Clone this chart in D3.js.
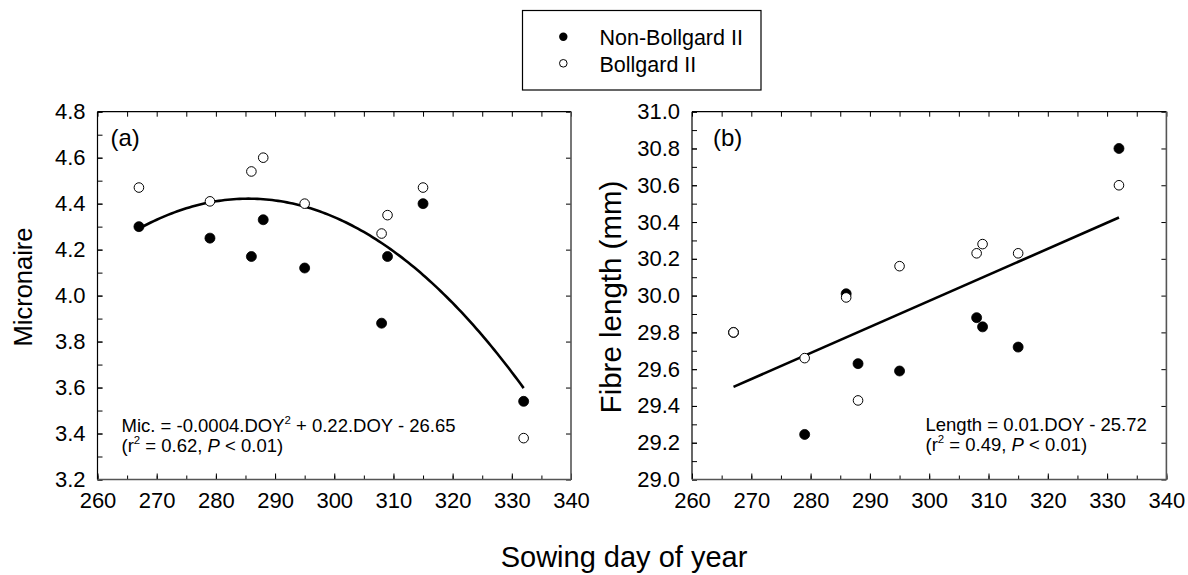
<!DOCTYPE html>
<html><head><meta charset="utf-8">
<script src="https://cdn.jsdelivr.net/npm/d3@7"></script>
<style>
html,body{margin:0;padding:0;background:#fff;}
svg{display:block;font-family:Arial,"Liberation Sans",sans-serif;}
</style></head>
<body>
<svg id="chart" width="1188" height="575"></svg>
<script>
// ---- data ----
const doy = [267, 279, 286, 288, 295, 308, 309, 315, 332];
const micNonBG = [4.30, 4.25, 4.17, 4.33, 4.12, 3.88, 4.17, 4.40, 3.54];
const micBG    = [4.47, 4.41, 4.54, 4.60, 4.40, 4.27, 4.35, 4.47, 3.38];
const lenNonBG = [29.80, 29.245, 30.01, 29.63, 29.59, 29.88, 29.83, 29.72, 30.80];
const lenBG    = [29.80, 29.66, 29.99, 29.43, 30.16, 30.23, 30.28, 30.23, 30.60];
const xTicks = [260, 270, 280, 290, 300, 310, 320, 330, 340];
const micTicks = [3.2, 3.4, 3.6, 3.8, 4.0, 4.2, 4.4, 4.6, 4.8];
const lenTicks = [29.0, 29.2, 29.4, 29.6, 29.8, 30.0, 30.2, 30.4, 30.6, 30.8, 31.0];
// fitted curves (coefficients)
const micFit = [-0.0003812, 0.2176652, -26.65];   // a*x^2 + b*x + c
const lenFit = [0.01417, 25.72];                  // slope, intercept
const fitRange = [267, 332];
const seriesNames = ["Non-Bollgard II", "Bollgard II"];

const svg = d3.select("#chart");
const FONT_TICK = 22;

function panel(opts) {
  const {x0, x1, y0, y1, yDomain, yTicks, yMinorStep, yFmt} = opts;
  const x = d3.scaleLinear().domain([260, 340]).range([x0, x1]);
  const y = d3.scaleLinear().domain(yDomain).range([y1, y0]);
  const g = svg.append("g");

  const minorX = d3.range(260, 341, 5);
  const minorY = d3.range(0, Math.round((yDomain[1]-yDomain[0])/yMinorStep)+1).map(i => yDomain[0] + i*yMinorStep);

  g.append("g").attr("transform", `translate(0,${y1})`)
    .call(d3.axisBottom(x).tickValues(minorX).tickSizeInner(-4).tickSizeOuter(0).tickFormat(""))
    .call(a => a.select(".domain").remove());
  g.append("g").attr("transform", `translate(0,${y1})`)
    .call(d3.axisBottom(x).tickValues(xTicks).tickSizeInner(-6).tickSizeOuter(0).tickPadding(13).tickFormat(d3.format("d")))
    .call(a => a.select(".domain").remove())
    .call(a => a.selectAll("text").attr("font-size", FONT_TICK).attr("font-family", "Arial, 'Liberation Sans', sans-serif").attr("fill", "#000"));
  g.append("g").attr("transform", `translate(0,${y0})`)
    .call(d3.axisTop(x).tickValues(minorX).tickSizeInner(-5).tickSizeOuter(0).tickFormat(""))
    .call(a => a.select(".domain").remove());
  g.append("g").attr("transform", `translate(${x0},0)`)
    .call(d3.axisLeft(y).tickValues(minorY).tickSizeInner(-5).tickSizeOuter(0).tickFormat(""))
    .call(a => a.select(".domain").remove());
  g.append("g").attr("transform", `translate(${x0},0)`)
    .call(d3.axisLeft(y).tickValues(yTicks).tickSizeInner(-5).tickSizeOuter(0).tickPadding(12).tickFormat(d3.format(yFmt)))
    .call(a => a.select(".domain").remove())
    .call(a => a.selectAll("text").attr("font-size", FONT_TICK).attr("font-family", "Arial, 'Liberation Sans', sans-serif").attr("fill", "#000"));
  g.append("g").attr("transform", `translate(${x1},0)`)
    .call(d3.axisRight(y).tickValues(yTicks).tickSizeInner(-5).tickSizeOuter(0).tickFormat(""))
    .call(a => a.select(".domain").remove());

  g.selectAll(".tick line").attr("stroke", "#000").attr("stroke-width", 1);

  g.append("line").attr("x1", x0).attr("x2", x1).attr("y1", y0).attr("y2", y0).attr("stroke", "#000").attr("stroke-width", 1.2);
  g.append("line").attr("x1", x0).attr("x2", x0).attr("y1", y0).attr("y2", y1).attr("stroke", "#000").attr("stroke-width", 1.2);
  g.append("line").attr("x1", x1).attr("x2", x1).attr("y1", y0).attr("y2", y1).attr("stroke", "#555").attr("stroke-width", 1.6);
  g.append("line").attr("x1", x0).attr("x2", x1).attr("y1", y1).attr("y2", y1).attr("stroke", "#555").attr("stroke-width", 1.6);

  return {g, x, y};
}

function drawPoints(p, xs, nonVals, bgVals) {
  p.g.append("g").selectAll("circle").data(xs.map((d,i)=>[d, nonVals[i]])).join("circle")
    .attr("cx", d => p.x(d[0])).attr("cy", d => p.y(d[1])).attr("r", 5)
    .attr("fill", "#000").attr("stroke", "#000").attr("stroke-width", 0.8);
  p.g.append("g").selectAll("circle").data(xs.map((d,i)=>[d, bgVals[i]])).join("circle")
    .attr("cx", d => p.x(d[0])).attr("cy", d => p.y(d[1])).attr("r", 4.8)
    .attr("fill", "#fff").attr("stroke", "#000").attr("stroke-width", 1);
}

function eqText(g, x, yb, parts1, parts2, size) {
  const t1 = g.append("text").attr("x", x).attr("y", yb).attr("font-size", size).attr("fill", "#000");
  parts1.forEach(pt => addPart(t1, pt, size));
  const t2 = g.append("text").attr("x", x).attr("y", yb + 20).attr("font-size", size).attr("fill", "#000");
  parts2.forEach(pt => addPart(t2, pt, size));
}
function addPart(t, pt, size) {
  const s = t.append("tspan").text(pt.t);
  if (pt.sup) { s.attr("font-size", size*0.62).attr("dy", -size*0.42); }
  if (pt.after) { s.attr("dy", size*0.42); }
  if (pt.it) s.attr("font-style", "italic");
}

// ---- Panel (a) ----
const pa = panel({x0: 97.5, x1: 571, y0: 111.7, y1: 479.5, yDomain: [3.2, 4.8], yTicks: micTicks, yMinorStep: 0.1, yFmt: ".1f"});
const curvePts = d3.range(fitRange[0], fitRange[1] + 0.01, 0.5).map(d => [d, micFit[0]*d*d + micFit[1]*d + micFit[2]]);
pa.g.append("path").datum(curvePts)
  .attr("d", d3.line().x(d => pa.x(d[0])).y(d => pa.y(d[1])))
  .attr("fill", "none").attr("stroke", "#000").attr("stroke-width", 2.6);
drawPoints(pa, doy, micNonBG, micBG);
pa.g.append("text").attr("x", 110.5).attr("y", 145.5).attr("font-size", 24).text("(a)");
eqText(pa.g, 121.5, 432,
  [{t:"Mic. = -0.0004.DOY"},{t:"2",sup:true},{t:" + 0.22.DOY - 26.65",after:true}],
  [{t:"(r"},{t:"2",sup:true},{t:" = 0.62, ",after:true},{t:"P",it:true},{t:" < 0.01)"}], 18.5);

// ---- Panel (b) ----
const pb = panel({x0: 692, x1: 1166.4, y0: 111.7, y1: 479.5, yDomain: [29.0, 31.0], yTicks: lenTicks, yMinorStep: 0.1, yFmt: ".1f"});
pb.g.append("line")
  .attr("x1", pb.x(fitRange[0])).attr("y1", pb.y(lenFit[0]*fitRange[0] + lenFit[1]))
  .attr("x2", pb.x(fitRange[1])).attr("y2", pb.y(lenFit[0]*fitRange[1] + lenFit[1]))
  .attr("stroke", "#000").attr("stroke-width", 2.6);
drawPoints(pb, doy, lenNonBG, lenBG);
pb.g.append("text").attr("x", 713).attr("y", 145.5).attr("font-size", 24).text("(b)");
eqText(pb.g, 925.5, 430.5,
  [{t:"Length = 0.01.DOY - 25.72"}],
  [{t:"(r"},{t:"2",sup:true},{t:" = 0.49, ",after:true},{t:"P",it:true},{t:" < 0.01)"}], 18.5);

// ---- axis titles ----
svg.append("text").attr("transform", "translate(32,287) rotate(-90)").attr("text-anchor", "middle")
  .attr("font-size", 25.5).text("Micronaire");
svg.append("text").attr("transform", "translate(621,297) rotate(-90)").attr("text-anchor", "middle")
  .attr("font-size", 29.5).text("Fibre length (mm)");
svg.append("text").attr("x", 624).attr("y", 567).attr("text-anchor", "middle")
  .attr("font-size", 29).text("Sowing day of year");

// ---- legend ----
const lg = svg.append("g");
lg.append("rect").attr("x", 522.5).attr("y", 10.5).attr("width", 238.5).attr("height", 79.5)
  .attr("fill", "#fff").attr("stroke", "#000").attr("stroke-width", 1.2);
const legY = [36.7, 63.3];
lg.append("circle").attr("cx", 563.3).attr("cy", legY[0]).attr("r", 4.2).attr("fill", "#000");
lg.append("circle").attr("cx", 563.3).attr("cy", legY[1]).attr("r", 3.8).attr("fill", "#fff").attr("stroke", "#000").attr("stroke-width", 1);
seriesNames.forEach((n, i) => {
  lg.append("text").attr("x", 599.5).attr("y", legY[i] + 8.3).attr("font-size", 21.5).text(n);
});
</script>
</body></html>
